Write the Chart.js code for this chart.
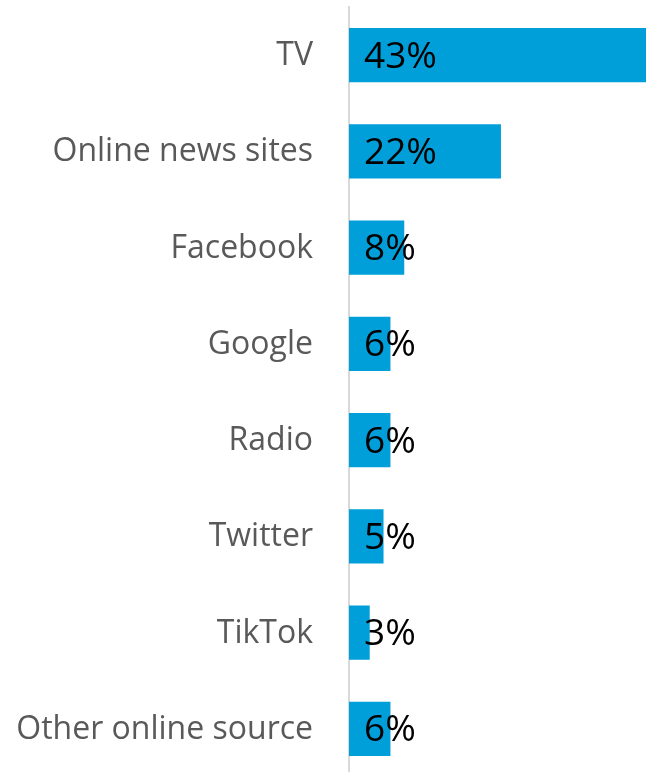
<!DOCTYPE html>
<html>
<head>
<meta charset="utf-8">
<script src="https://cdn.jsdelivr.net/npm/chart.js@4.4.1/dist/chart.umd.min.js"></script>
<style>
  html, body { margin: 0; padding: 0; background: #fff; overflow: hidden; }
  #wrap { width: 646px; height: 777px; }
</style>
</head>
<body>
<div id="wrap"><canvas id="chart"></canvas></div>
<script>
const categories = ['TV', 'Online news sites', 'Facebook', 'Google', 'Radio', 'Twitter', 'TikTok', 'Other online source'];
const shares = [43, 22, 8, 6, 6, 5, 3, 6];

// category names on the left and "43%" etc. just inside the bar base
const barLabels = {
  id: 'barLabels',
  afterDatasetsDraw(chart) {
    const ctx = chart.ctx;
    const meta = chart.getDatasetMeta(0);
    const yScale = chart.scales.y;
    const x0 = chart.scales.x.getPixelForValue(0);
    ctx.save();
    ctx.textBaseline = 'middle';

    ctx.font = '32px "Open Sans"';
    ctx.fillStyle = '#595959';
    ctx.textAlign = 'right';
    yScale.ticks.forEach((t, i) => {
      ctx.fillText(yScale.getLabelForValue(t.value), x0 - 36, yScale.getPixelForTick(i) + 1);
    });

    ctx.font = '37px "Open Sans"';
    ctx.fillStyle = '#000';
    ctx.textAlign = 'left';
    meta.data.forEach((bar, i) => {
      ctx.fillText(shares[i] + '%', x0 + 15, bar.y + 2);
    });
    ctx.restore();
  }
};

new Chart(document.getElementById('chart'), {
  type: 'bar',
  data: {
    labels: categories,
    datasets: [{
      data: shares,
      backgroundColor: '#009fda',
      barPercentage: 0.565,
      categoryPercentage: 1
    }]
  },
  options: {
    indexAxis: 'y',
    responsive: true,
    maintainAspectRatio: false,
    animation: false,
    layout: { padding: { top: 7, right: 0, bottom: 0, left: 0 } },
    plugins: { legend: { display: false }, tooltip: { enabled: false } },
    scales: {
      x: { display: false, min: 0, max: 43 },
      y: {
        grid: { display: false },
        border: { display: true, color: '#d9d9d9', width: 2 },
        afterFit: axis => { axis.width = 349; },
        ticks: { display: false }
      }
    }
  },
  plugins: [barLabels]
});
</script>
</body>
</html>
